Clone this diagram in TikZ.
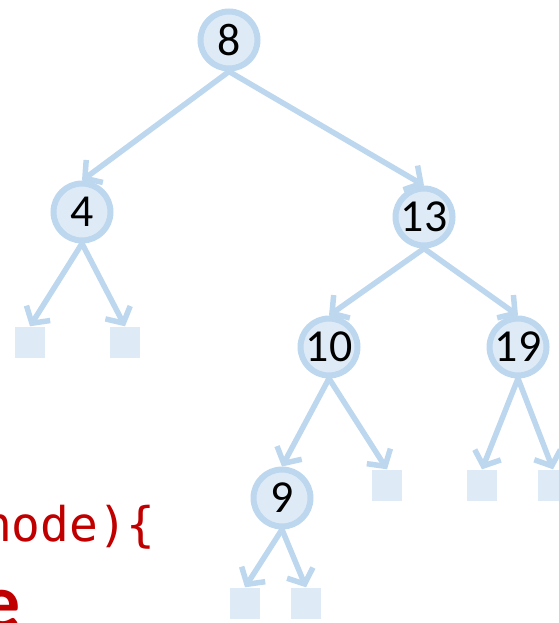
\documentclass[tikz,border=0pt]{standalone}
\usepackage{fontspec}
\setmainfont{Carlito}
\newfontfamily\codefont{DejaVu Sans Mono}
\usetikzlibrary{positioning,arrows.meta}
\definecolor{treeline}{HTML}{BDD7EE}
\definecolor{treefill}{HTML}{DEEBF7}
\definecolor{codered}{HTML}{C00000}

\begin{document}
\begin{tikzpicture}[
    x=1bp, y=-1bp, on grid,
    key/.style={draw=treeline, line width=6bp, fill=treefill, circle, minimum size=57bp, inner sep=0pt, font=\fontsize{46}{52}\selectfont},
    nil/.style={rectangle, fill=treefill, minimum width=30bp, minimum height=31bp, inner sep=0pt},
    arrow/.style={-{Straight Barb[length=12bp, width=28bp]}, draw=treeline, line width=5.5bp, line cap=round}
]
\clip (0,0) rectangle (559,623);

% Inner nodes
\node[key] (eight) at (229,40) {8};
\node[key, below left=172bp and 147bp of eight] (four) {4};
\node[key, below right=177bp and 195bp of eight] (thirteen) {13};
\node[key, below left=130bp and 95bp of thirteen] (ten) {10};
\node[key, below right=130bp and 94bp of thirteen] (nineteen) {19};
\node[key, below left=151bp and 47bp of ten] (nine) {9};

% Empty leaves
\node[nil, below left=130bp and 52bp of four] (fourL) {};
\node[nil, below right=130bp and 43bp of four] (fourR) {};
\node[nil, below right=138bp and 58bp of ten] (tenR) {};
\node[nil, below left=138bp and 36bp of nineteen] (nineteenL) {};
\node[nil, below right=138bp and 35bp of nineteen] (nineteenR) {};
\node[nil, below left=105bp and 37bp of nine] (nineL) {};
\node[nil, below right=105bp and 24bp of nine] (nineR) {};

\draw[arrow] (eight.south) -- (four.north);
\draw[arrow] (eight.south) -- (thirteen.north);
\draw[arrow] (four.south) -- (fourL.north);
\draw[arrow] (four.south) -- (fourR.north);
\draw[arrow] (thirteen.south) -- (ten.north);
\draw[arrow] (thirteen.south) -- (nineteen.north);
\draw[arrow] (ten.south) -- (nine.north);
\draw[arrow] (ten.south) -- (tenR.north);
\draw[arrow] (nineteen.south) -- (nineteenL.north);
\draw[arrow] (nineteen.south) -- (nineteenR.north);
\draw[arrow] (nine.south) -- (nineL.north);
\draw[arrow] (nine.south) -- (nineR.north);

% Code fragments at the left edge
\node[anchor=base east, inner sep=0pt, text=codered, font=\codefont\fontsize{48}{56}\selectfont] (code) at (156,541) {node)\{};
\node[anchor=base east, inner sep=0pt, text=codered, font=\bfseries\fontsize{78}{90}\selectfont] (title) at (21,628) {e};

\end{tikzpicture}
\end{document}
